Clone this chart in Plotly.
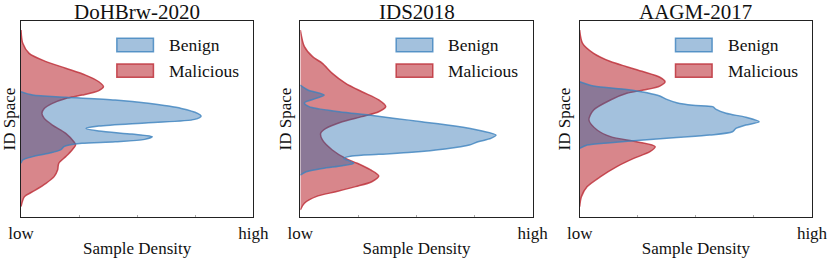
import plotly.graph_objects as go
from plotly.subplots import make_subplots

# ---------------- data ----------------
titles = ["DoHBrw-2020", "IDS2018", "AAGM-2017"]
series_names = ["Benign", "Malicious"]
x_tick_labels = ["low", "", "", "", "high"]
x_tick_vals = [0, 1, 2, 3, 4]

# DoHBrw-2020
doh_mal_id = [95.4, 88.6, 83.5, 79.3, 75.9, 72.4, 69.0, 66.5, 64.5, 62.2, 60.5, 58.0, 55.4, 52.9, 50.3,
              46.9, 42.7, 38.4, 36.7, 34.2, 30.8, 27.4, 24.0, 20.6, 17.2, 12.9, 10.4, 5.3]
doh_mal_den = [0.0, 0.03, 0.14, 0.43, 0.77, 1.11, 1.34, 1.42, 1.34, 1.05, 0.77, 0.54, 0.40, 0.36, 0.40,
               0.54, 0.77, 0.91, 0.94, 0.88, 0.77, 0.65, 0.63, 0.57, 0.43, 0.20, 0.06, 0.0]
doh_ben_id = [63.9, 62.2, 61.1, 59.7, 58.0, 55.4, 52.9, 51.5, 49.8, 48.1, 46.4, 45.2, 43.9, 42.3, 41.0,
              39.6, 38.4, 37.6, 36.7, 35.9, 34.2, 32.5, 30.8, 29.1, 27.4]
doh_ben_den = [0.0, 0.20, 0.77, 1.62, 2.19, 2.76, 3.04, 3.10, 2.99, 2.19, 1.34, 1.12, 1.34, 1.91, 2.26,
               2.13, 1.62, 1.05, 0.83, 0.74, 0.68, 0.48, 0.20, 0.03, 0.0]

# IDS2018
ids_mal_id = [95.4, 86.9, 81.8, 78.4, 73.3, 68.2, 63.9, 59.7, 56.3, 53.7, 51.2, 48.6, 45.2, 42.7, 39.3,
              34.2, 29.9, 27.4, 24.0, 20.9, 18.0, 15.5, 12.9, 10.4, 7.0, 3.6]
ids_mal_den = [0.0, 0.07, 0.21, 0.38, 0.55, 0.78, 1.06, 1.35, 1.47, 1.35, 1.06, 0.72, 0.44, 0.35, 0.38,
               0.55, 0.78, 0.98, 1.21, 1.35, 1.23, 0.95, 0.61, 0.27, 0.07, 0.0]
ids_ben_id = [67.3, 64.8, 62.2, 60.5, 58.3, 56.3, 53.7, 52.0, 50.3, 48.6, 46.4, 44.0, 41.8, 40.1, 38.4,
              36.7, 34.7, 33.0, 32.0, 31.1, 29.9, 28.6, 27.4, 26.2, 24.8, 23.1, 21.4]
ids_ben_den = [0.0, 0.13, 0.41, 0.27, 0.07, 0.15, 0.67, 1.18, 1.63, 2.09, 2.66, 3.11, 3.37, 3.28, 3.06,
               2.91, 2.49, 1.92, 1.35, 0.89, 0.75, 0.84, 0.92, 0.72, 0.38, 0.10, 0.0]

# AAGM-2017
aagm_mal_id = [95.4, 88.6, 83.5, 79.3, 76.7, 74.1, 71.3, 69.0, 66.8, 64.8, 63.1, 59.7, 54.6, 49.5, 44.4,
               41.0, 38.4, 35.9, 33.3, 29.9, 25.7, 20.6, 15.5, 10.4, 5.3]
aagm_mal_den = [0.0, 0.05, 0.24, 0.53, 0.81, 1.10, 1.38, 1.47, 1.38, 1.10, 0.81, 0.53, 0.24, 0.16, 0.30,
                0.53, 0.98, 1.30, 1.21, 0.93, 0.64, 0.36, 0.13, 0.03, 0.0]
aagm_ben_id = [69.0, 66.8, 65.1, 63.4, 61.7, 60.0, 58.3, 57.0, 56.3, 54.9, 52.9, 50.9, 48.6, 46.9, 45.2,
               43.5, 41.8, 40.6, 39.3, 37.9, 36.7, 35.0]
aagm_ben_den = [0.0, 0.24, 0.81, 1.16, 1.38, 1.50, 1.67, 1.95, 2.29, 2.35, 2.52, 2.86, 3.09, 2.86, 2.69,
                2.63, 2.24, 1.67, 1.10, 0.53, 0.13, 0.0]

panels = [
    (doh_ben_id, doh_ben_den, doh_mal_id, doh_mal_den),
    (ids_ben_id, ids_ben_den, ids_mal_id, ids_mal_den),
    (aagm_ben_id, aagm_ben_den, aagm_mal_id, aagm_mal_den),
]

# ---------------- style ----------------
SERIF = "Liberation Serif"
BLUE_FILL = "rgba(25,100,170,0.40)"
BLUE_LINE = "rgba(60,130,190,0.80)"
RED_FILL = "rgba(190,53,62,0.60)"
RED_LINE = "rgba(190,50,60,0.85)"
TXT = "#111111"

fig = make_subplots(rows=1, cols=3, subplot_titles=titles, horizontal_spacing=0.0594)

for i, (b_id, b_den, m_id, m_den) in enumerate(panels, start=1):
    fig.add_trace(go.Scatter(x=m_den, y=m_id, name=series_names[1], mode="lines",
                             line=dict(color=RED_LINE, width=1.5, shape="spline", smoothing=0.8),
                             fill="tozerox", fillcolor=RED_FILL, showlegend=False), row=1, col=i)
    fig.add_trace(go.Scatter(x=b_den, y=b_id, name=series_names[0], mode="lines",
                             line=dict(color=BLUE_LINE, width=1.5, shape="spline", smoothing=0.8),
                             fill="tozerox", fillcolor=BLUE_FILL, showlegend=False), row=1, col=i)

    xr = "x domain" if i == 1 else f"x{i} domain"
    yr = "y domain" if i == 1 else f"y{i} domain"
    # legend patches + labels
    for (y0, y1, yc, fillc, linec, label) in [
        (0.843, 0.912, 0.877, BLUE_FILL, BLUE_LINE, series_names[0]),
        (0.713, 0.781, 0.747, RED_FILL, RED_LINE, series_names[1]),
    ]:
        fig.add_shape(type="rect", xref=xr, yref=yr, x0=0.4125, x1=0.570, y0=y0, y1=y1,
                      fillcolor=fillc, line=dict(color=linec, width=1.5), layer="above")
        fig.add_annotation(xref=xr, yref=yr, x=0.628, y=yc, text=label, showarrow=False,
                           xanchor="left", yanchor="middle",
                           font=dict(family=SERIF, size=17.5, color=TXT))

    fig.update_xaxes(range=[0, 4], tickvals=x_tick_vals, ticktext=x_tick_labels,
                     ticks="inside", ticklen=2, tickcolor="#aaaaaa", tickwidth=1,
                     showgrid=False, zeroline=False, showline=True, mirror=True,
                     linecolor="#222222", linewidth=1.3, automargin=False,
                     tickfont=dict(family=SERIF, size=17, color=TXT),
                     title=dict(text="Sample Density", font=dict(family=SERIF, size=17, color=TXT),
                                standoff=0),
                     row=1, col=i)
    fig.update_yaxes(range=[0, 100], showticklabels=False, ticks="",
                     showgrid=False, zeroline=False, showline=True, mirror=True,
                     linecolor="#222222", linewidth=1.3, automargin=False,
                     title=dict(text="ID Space", font=dict(family=SERIF, size=17, color=TXT),
                                standoff=3),
                     row=1, col=i)

for ann in fig.layout.annotations[:3]:
    ann.font = dict(family=SERIF, size=21, color=TXT)
    ann.yshift = -5

fig.update_layout(width=830, height=258, margin=dict(l=21, r=18, t=21, b=41, autoexpand=False),
                  font=dict(family=SERIF, color=TXT),
                  paper_bgcolor="white", plot_bgcolor="white", showlegend=False)

fig.write_html("out.html", config={"displayModeBar": False},
               post_script="document.body.style.margin='0px';")
